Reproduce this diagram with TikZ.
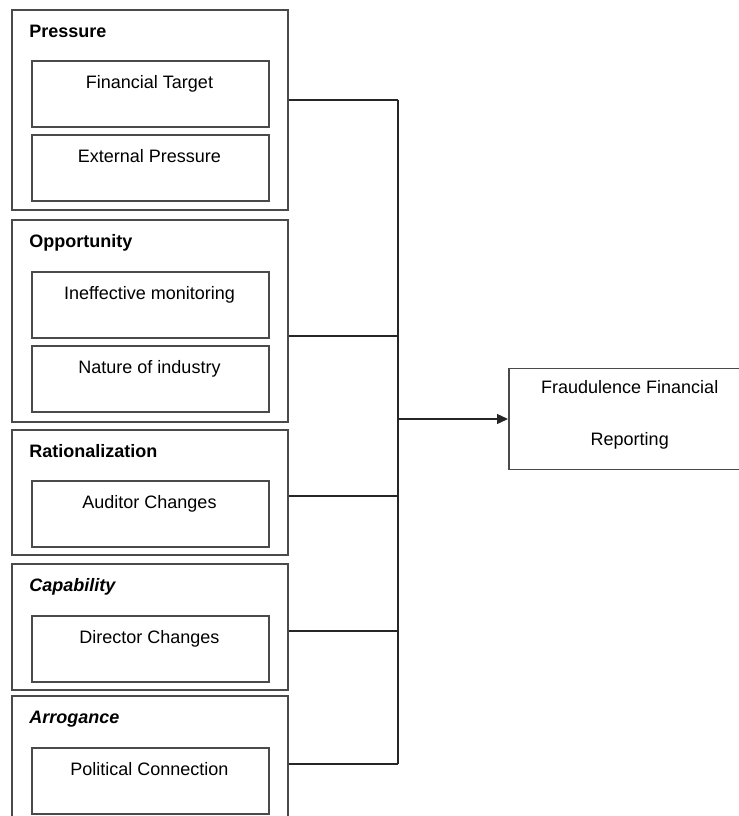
\documentclass[tikz,border=0pt]{standalone}
\usepackage{fontspec}
\setmainfont{Liberation Sans}
\usetikzlibrary{arrows.meta,positioning}
\definecolor{BoxGray}{HTML}{4A4A4A}

\begin{document}
\begin{tikzpicture}[x=0.5pt,y=-0.5pt,font=\fontsize{9}{11}\selectfont,
    outerbox/.style={draw=BoxGray,line width=0.75pt,anchor=north west,
      minimum width=138pt,inner sep=0pt},
    innerbox/.style={draw=BoxGray,line width=0.75pt,anchor=north west,
      minimum width=118.5pt,minimum height=33pt,inner sep=0pt},
    titletext/.style={anchor=base west,inner sep=0pt,font=\fontsize{9}{11}\selectfont\bfseries},
    link/.style={draw=black!85,line width=0.65pt}]
  \useasboundingbox (0,0) rectangle (739,816);
  \clip (0,0) rectangle (739,816);
  % outer groups -- name/top/height/title/bus y
  \foreach \n/\t/\h/\ttl/\b in {pres/9/200/{Pressure}/100,
      opp/219/202/{Opportunity}/336,
      rat/429/125/{Rationalization}/496,
      cap/563/126/{\itshape Capability}/631,
      arr/695/126/{\itshape Arrogance}/764}{
    \node[outerbox,minimum height=\h*0.5pt] (\n) at (11,\t) {};
    \node[titletext] (\n-title) at (29,\t+28) {\ttl};
    \coordinate (bus-\n) at (398,\b);
    \draw[link] (\n.east |- bus-\n) -- (bus-\n);
  }
  % indicators inside the groups
  \foreach \n/\t/\txt in {fin/60/Financial Target, ext/134/External Pressure,
      ineff/271/Ineffective monitoring, nat/345/Nature of industry,
      aud/480/Auditor Changes, dir/615/Director Changes,
      pol/747/Political Connection}{
    \node[innerbox] (\n) at (31,\t) {};
    \node[anchor=base,inner sep=0pt] (\n-text) at (149.5,\t+28) {\txt};
  }
  % outcome
  \node[draw=BoxGray,line width=0.75pt,anchor=west,minimum width=121pt,
    minimum height=50.5pt,inner sep=0pt] (frd) at (508,419) {};
  \node[align=center,inner sep=0pt] (frd-text) at ([yshift=2pt]frd.center)
    {Fraudulence Financial\\[15pt]Reporting};
  \draw[link] (bus-pres) -- (bus-arr);
  \draw[link,-{Triangle[length=5.5pt,width=5pt]}] (bus-pres |- frd.west) -- (frd.west);
\end{tikzpicture}
\end{document}
